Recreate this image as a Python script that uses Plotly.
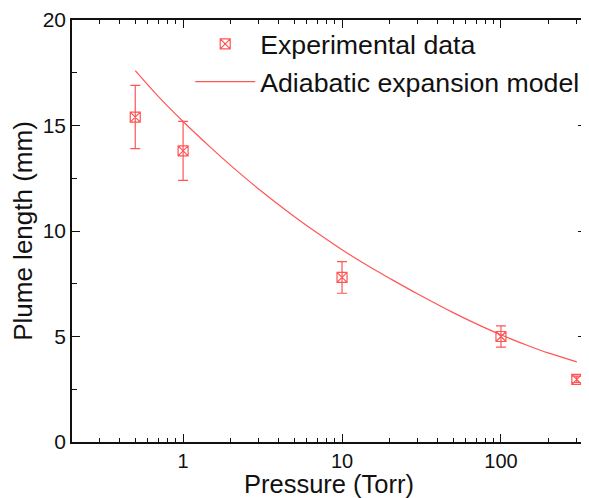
import plotly.graph_objects as go

# Experimental data
pressure = [0.5, 1, 10, 100, 300]
plume_length = [15.4, 13.8, 7.8, 5.0, 2.97]
plume_err = [1.5, 1.4, 0.75, 0.5, 0.15]

# Adiabatic expansion model
model_pressure = [0.5, 0.7, 1, 1.5, 2, 3, 5, 7, 10, 15, 20, 30, 50, 70, 100, 150, 200, 300]
model_length = [17.6, 16.37, 15.19, 13.94, 13.10, 11.98, 10.69, 9.90, 9.11, 8.29, 7.75,
                7.01, 6.13, 5.60, 5.08, 4.55, 4.21, 3.80]

x_major = [1, 10, 100]
x_minor = [0.2, 0.3, 0.4, 0.5, 0.6, 0.7, 0.8, 0.9,
           2, 3, 4, 5, 6, 7, 8, 9,
           20, 30, 40, 50, 60, 70, 80, 90, 200, 300]

RED = "rgb(255,85,85)"
FONT = "Liberation Sans, Arial, sans-serif"

fig = go.Figure()
fig.add_trace(go.Scatter(
    x=pressure, y=plume_length, mode="markers", name="Experimental data",
    marker=dict(symbol="square-x-open", size=10, color=RED, line=dict(width=1.2, color=RED)),
    error_y=dict(type="data", array=plume_err, color=RED, thickness=1.2, width=5),
    cliponaxis=False,
))
fig.add_trace(go.Scatter(
    x=model_pressure, y=model_length, mode="lines", name="Adiabatic expansion model",
    line=dict(color=RED, width=1.2, shape="spline"),
))

# page body has an 8px margin, so the figure is sized/offset to compensate
fig.update_layout(
    width=581, height=490,
    margin=dict(l=64, r=3, t=12, b=56, autoexpand=False),
    paper_bgcolor="white", plot_bgcolor="white",
    font=dict(family=FONT, size=21, color="#111"),
    showlegend=True,
    legend=dict(x=0.23, y=1.0, xanchor="left", yanchor="top",
                bgcolor="rgba(0,0,0,0)", font=dict(size=26.7, family=FONT, color="#111"),
                tracegroupgap=0, itemwidth=60),
)
fig.update_xaxes(
    type="log", range=[-0.699, 2.535], automargin=False,
    tickvals=x_major, ticktext=["1", "10", "100"],
    ticks="inside", ticklen=8, tickwidth=1.3, tickcolor="#111",
    minor=dict(tickvals=x_minor, ticks="inside", ticklen=4, tickwidth=1.2, tickcolor="#111"),
    showline=True, linecolor="#111", linewidth=1.5, mirror="allticks",
    showgrid=False, zeroline=False,
    title=dict(text="Pressure (Torr)", font=dict(size=25.5), standoff=6),
    tickfont=dict(size=20),
)
fig.update_yaxes(
    range=[0, 20], tickvals=[0, 5, 10, 15, 20], automargin=False,
    ticks="inside", ticklen=8, tickwidth=1.3, tickcolor="#111",
    minor=dict(tickvals=[2.5, 7.5, 12.5, 17.5], ticks="inside", ticklen=5, tickwidth=1.2, tickcolor="#111"),
    showline=True, linecolor="#111", linewidth=1.5, mirror="allticks",
    showgrid=False, zeroline=False,
    title=dict(text="Plume length (mm)", font=dict(size=26), standoff=4),
    tickfont=dict(size=21),
)

fig.write_html("out.html")
